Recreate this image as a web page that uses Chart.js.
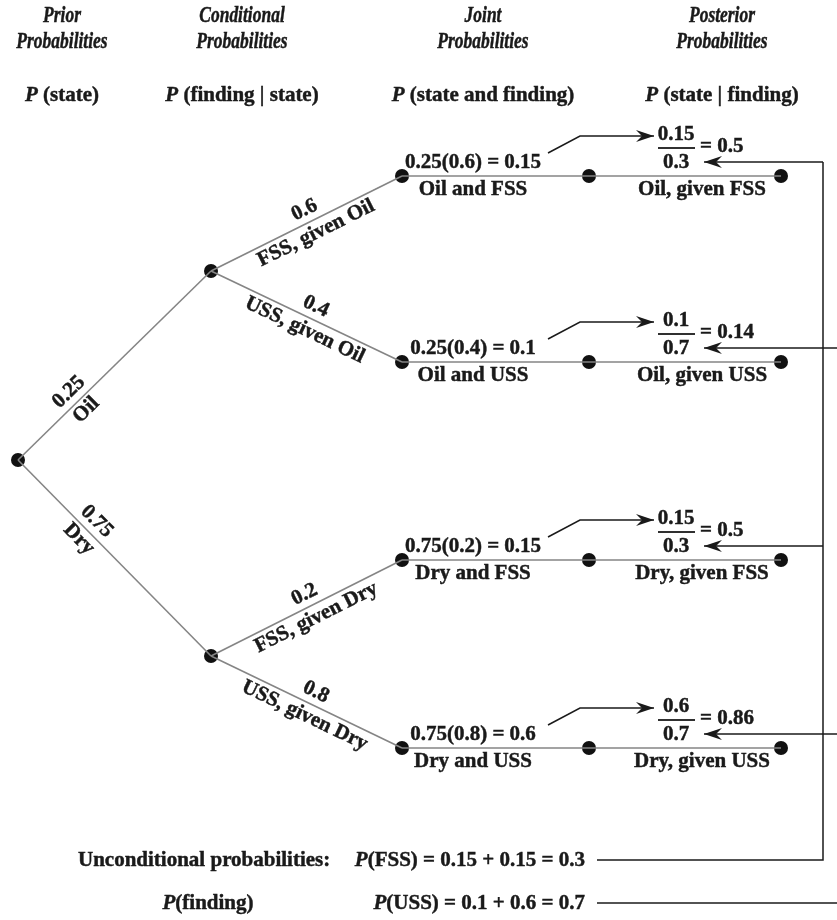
<!DOCTYPE html>
<html>
<head>
<meta charset="utf-8">
<script src="https://cdn.jsdelivr.net/npm/chart.js@4"></script>
<style>
  body { margin: 0; background: #fff; }
  #wrap { width: 837px; height: 920px; }
</style>
</head>
<body>
<div id="wrap"><canvas id="tree"></canvas></div>
<script>
// values
const states = ["Oil", "Dry"]
const findings = ["FSS", "USS"]
const priors = [0.25, 0.75]
const conditionals = [[0.6, 0.4], [0.2, 0.8]]
const jointValues = [0.15, 0.1, 0.15, 0.6]
const findingTotals = [0.3, 0.7]
const posteriorValues = [0.5, 0.14, 0.5, 0.86]
const headerTitles = [["Prior", "Probabilities"], ["Conditional", "Probabilities"], ["Joint", "Probabilities"], ["Posterior", "Probabilities"]]
const headerFormulas = [" (state)", " (finding | state)", " (state and finding)", " (state | finding)"]

// layout (in canvas units, scales run 0..837 and 0..920)
const root = {x: 18, y: 460}
const stateX = 211
const stateY = [271, 656]
const rowY = [176, 362, 560, 748]
const jointX = 402, midX = 589, postX = 781
const headerX = [62, 242, 483, 722]

const gray = "#858585"
const ink = "#1a1a1a"
const FONT = "'Liberation Serif', 'Times New Roman', serif"

function seg(points, color, width) {
    return {
        data: points.map(p => ({x: p[0], y: p[1]})),
        showLine: true,
        borderColor: color,
        borderWidth: width,
        pointRadius: 0,
        fill: false
    }
}

const datasets = []
const nodes = [{x: root.x, y: root.y}]

// tree branches
states.forEach((s, i) => {
    datasets.push(seg([[root.x, root.y], [stateX, stateY[i]]], gray, 1.6))
    nodes.push({x: stateX, y: stateY[i]})
    findings.forEach((f, j) => {
        const r = rowY[i * 2 + j]
        datasets.push(seg([[stateX, stateY[i]], [jointX, r]], gray, 1.6))
        datasets.push(seg([[jointX, r], [postX, r]], gray, 1.6))
        nodes.push({x: jointX, y: r}, {x: midX, y: r}, {x: postX, y: r})
    })
})

// arrows joint -> posterior numerator, and totals -> denominator
const arrowTips = []
rowY.forEach((r, k) => {
    datasets.push(seg([[548, r - 23], [580, r - 40], [654, r - 40]], ink, 1.5))
    arrowTips.push({x: 654, y: r - 40, dir: 1})
    const fromX = (k % 2 === 0) ? 823 : 840
    datasets.push(seg([[fromX, r - 14], [704, r - 14]], ink, 1.5))
    arrowTips.push({x: 704, y: r - 14, dir: -1})
})
datasets.push(seg([[823, rowY[0] - 14], [823, 860], [597, 860]], ink, 1.5))
datasets.push(seg([[597, 903], [840, 903]], ink, 1.5))

datasets.push({
    data: nodes,
    pointRadius: 7,
    pointHoverRadius: 7,
    backgroundColor: "#111",
    borderWidth: 0
})

function setFont(ctx, italic, size) {
    ctx.font = (italic ? "italic " : "") + "bold " + size + "px " + FONT
}

function runs(ctx, parts, x, y, align) {
    // parts: [text, italic]
    let total = 0
    parts.forEach(p => {
        setFont(ctx, p[1], 21)
        total += ctx.measureText(p[0]).width
    })
    let cx = align === "center" ? x - total / 2 : align === "right" ? x - total : x
    ctx.textAlign = "left"
    parts.forEach(p => {
        setFont(ctx, p[1], 21)
        ctx.fillText(p[0], cx, y)
        ctx.strokeText(p[0], cx, y)
        cx += ctx.measureText(p[0]).width
    })
}

function text(ctx, s, x, y) {
    ctx.fillText(s, x, y)
    ctx.strokeText(s, x, y)
}

const labelsPlugin = {
    id: "labels",
    afterDatasetsDraw(chart) {
        const ctx = chart.ctx
        const X = v => chart.scales.x.getPixelForValue(v)
        const Y = v => chart.scales.y.getPixelForValue(v)
        ctx.save()
        ctx.fillStyle = ink
        ctx.strokeStyle = ink
        ctx.lineWidth = 0.45
        ctx.textBaseline = "middle"

        // headers (condensed italic)
        headerTitles.forEach((t, i) => {
            ctx.save()
            ctx.translate(X(headerX[i]), 0)
            ctx.scale(0.76, 1)
            setFont(ctx, true, 23)
            ctx.textAlign = "center"
            text(ctx, t[0], 0, Y(16))
            text(ctx, t[1], 0, Y(42))
            ctx.restore()
            runs(ctx, [["P", true], [headerFormulas[i], false]], X(headerX[i]), Y(96), "center")
        })

        function branchLabel(a, b, t, top, bottom, offTop, offBot) {
            const ax = X(a[0]), ay = Y(a[1]), bx = X(b[0]), by = Y(b[1])
            const px = ax + (bx - ax) * t, py = ay + (by - ay) * t
            ctx.save()
            ctx.translate(px, py)
            ctx.rotate(Math.atan2(by - ay, bx - ax))
            setFont(ctx, false, 21)
            ctx.textAlign = "center"
            text(ctx, top, 0, -offTop)
            text(ctx, bottom, 0, offBot)
            ctx.restore()
        }

        states.forEach((s, i) => {
            branchLabel([root.x, root.y], [stateX, stateY[i]], i === 0 ? 0.31 : 0.36, String(priors[i]), s, 13, 12)
            findings.forEach((f, j) => {
                const k = i * 2 + j
                const r = rowY[k]
                branchLabel([stateX, stateY[i]], [jointX, r], 0.52, String(conditionals[i][j]), f + ", given " + s, 13, 13)

                setFont(ctx, false, 21)
                ctx.textAlign = "center"
                text(ctx, priors[i] + "(" + conditionals[i][j] + ") = " + jointValues[k], X(473), Y(r - 13))
                text(ctx, s + " and " + f, X(473), Y(r + 14))
                text(ctx, s + ", given " + f, X(702), Y(r + 14))

                // fraction
                text(ctx, String(jointValues[k]), X(676), Y(r - 41))
                text(ctx, String(findingTotals[j]), X(676), Y(r - 13))
                ctx.fillRect(X(658), Y(r - 28) - 0.9, X(695) - X(658), 1.8)
                ctx.textAlign = "left"
                text(ctx, "= " + posteriorValues[k], X(700), Y(r - 29))
            })
        })

        // arrowheads
        arrowTips.forEach(a => {
            const tx = X(a.x), ty = Y(a.y), d = a.dir
            ctx.beginPath()
            ctx.moveTo(tx, ty)
            ctx.lineTo(tx - d * 18, ty - 6)
            ctx.lineTo(tx - d * 12, ty)
            ctx.lineTo(tx - d * 18, ty + 6)
            ctx.closePath()
            ctx.fill()
        })

        // unconditional probabilities
        runs(ctx, [["Unconditional probabilities:", false]], X(78), Y(861), "left")
        runs(ctx, [["P", true], ["(FSS) = 0.15 + 0.15 = " + findingTotals[0], false]], X(585), Y(861), "right")
        runs(ctx, [["P", true], ["(finding)", false]], X(208), Y(904), "center")
        runs(ctx, [["P", true], ["(USS) = 0.1 + 0.6 = " + findingTotals[1], false]], X(585), Y(904), "right")
        ctx.restore()
    }
}

new Chart(document.getElementById("tree"), {
    type: "scatter",
    data: {datasets: datasets},
    options: {
        responsive: true,
        maintainAspectRatio: false,
        animation: false,
        layout: {padding: 0, autoPadding: false},
        plugins: {legend: {display: false}, tooltip: {enabled: false}},
        scales: {
            x: {type: "linear", min: 0, max: 837, display: false},
            y: {type: "linear", min: 0, max: 920, reverse: true, display: false}
        }
    },
    plugins: [labelsPlugin]
})
</script>
</body>
</html>
